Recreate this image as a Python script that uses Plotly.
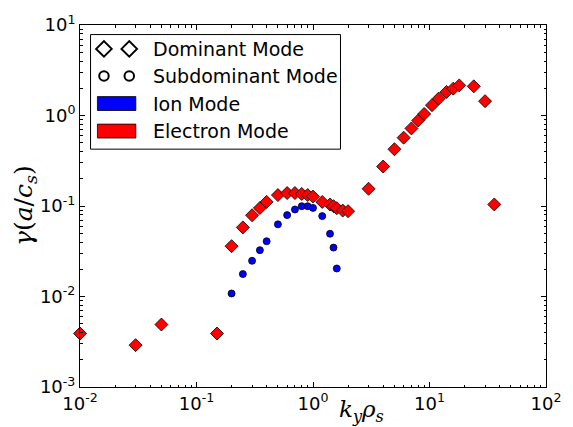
import plotly.graph_objects as go

# Electron mode (dominant) growth rates
ele_k = [0.01, 0.03, 0.05, 0.15, 0.2, 0.25, 0.3, 0.35, 0.4, 0.5, 0.6, 0.7, 0.8, 0.9, 1.0,
         1.2, 1.4, 1.5, 1.6, 1.8, 2.0, 3.0, 4.0, 5.0, 6.0, 7.0, 8.0, 9.0, 10.5, 12.0, 14.0,
         16.0, 18.0, 24.0, 30.0, 36.0]
ele_g = [0.0039, 0.0029, 0.0049, 0.0039, 0.036, 0.058, 0.079, 0.095, 0.111, 0.132, 0.139,
         0.139, 0.136, 0.132, 0.127, 0.111, 0.104, 0.0995, 0.0946, 0.089, 0.0877, 0.155,
         0.273, 0.424, 0.569, 0.72, 0.88, 1.04, 1.30, 1.54, 1.82, 1.98, 2.15, 2.10, 1.44, 0.104]

# Ion mode (subdominant) growth rates
ion_k = [0.2, 0.25, 0.3, 0.35, 0.4, 0.5, 0.6, 0.7, 0.8, 0.9, 1.0, 1.2, 1.4, 1.5, 1.6]
ion_g = [0.0108, 0.0177, 0.0248, 0.0325, 0.0408, 0.0627, 0.0793, 0.0915, 0.0995, 0.0995,
         0.0953, 0.0773, 0.0494, 0.0347, 0.0204]

legend_labels = ["Dominant Mode", "Subdominant Mode", "Ion Mode", "Electron Mode"]
x_tickvals = [0.01, 0.1, 1, 10, 100]
x_ticktext = ["10<sup>-2</sup>", "10<sup>-1</sup>", "10<sup>0</sup>", "10<sup>1</sup>", "10<sup>2</sup>"]
y_tickvals = [0.001, 0.01, 0.1, 1, 10]
y_ticktext = ["10<sup>-3</sup>", "10<sup>-2</sup>", "10<sup>-1</sup>", "10<sup>0</sup>", "10<sup>1</sup>"]


def minor_vals(e0, e1):
    return [m * 10.0 ** e for e in range(e0, e1) for m in range(2, 10)]


FONT = "DejaVu Sans"
fig = go.Figure()

fig.add_trace(go.Scatter(x=ion_k, y=ion_g, mode="markers",
                         marker=dict(symbol="circle", size=7, color="#0000ff",
                                     line=dict(color="black", width=0.8)),
                         showlegend=False, cliponaxis=False))
fig.add_trace(go.Scatter(x=ele_k, y=ele_g, mode="markers",
                         marker=dict(symbol="diamond", size=10, color="#ff0000",
                                     line=dict(color="black", width=0.8)),
                         showlegend=False, cliponaxis=False))

# manual legend (matplotlib style)
lx = [0.0514, 0.1057]
rows = [0.934, 0.859, 0.783, 0.707]
fig.add_trace(go.Scatter(x=lx, y=[rows[0]] * 2, xaxis="x2", yaxis="y2", mode="markers",
                         marker=dict(symbol="diamond-open", size=12, color="black",
                                     line=dict(width=2)), showlegend=False, hoverinfo="skip"))
fig.add_trace(go.Scatter(x=lx, y=[rows[1]] * 2, xaxis="x2", yaxis="y2", mode="markers",
                         marker=dict(symbol="circle-open", size=9.5, color="black",
                                     line=dict(width=2)), showlegend=False, hoverinfo="skip"))

shapes = [dict(type="rect", xref="paper", yref="paper", x0=0.0226, x1=0.559, y0=0.657,
               y1=0.9736, line=dict(color="black", width=1), fillcolor="white", layer="below")]
for r, col in [(rows[2], "#0000ff"), (rows[3], "#ff0000")]:
    shapes.append(dict(type="rect", xref="paper", yref="paper", x0=0.0374, x1=0.1198,
                       y0=r - 0.0192, y1=r + 0.0192, fillcolor=col,
                       line=dict(color="black", width=0.8)))

annotations = []
for r, lab in zip(rows, legend_labels):
    annotations.append(dict(x=0.1516, y=r, xref="paper", yref="paper", text=lab,
                            showarrow=False, xanchor="left", yanchor="middle",
                            font=dict(family=FONT, size=19, color="black")))
annotations.append(dict(x=(366 - 80) / 473, y=-0.018, xref="paper", yref="paper",
                        text="<i>k<sub>y</sub>ρ<sub>s</sub></i>", showarrow=False,
                        xanchor="center", yanchor="top",
                        font=dict(family="DejaVu Serif", size=23, color="black")))
annotations.append(dict(x=-0.118, y=0.5, xref="paper", yref="paper",
                        text="<i>γ</i>(<i>a</i>/<i>c<sub>s</sub></i>)", showarrow=False,
                        textangle=-90, xanchor="center", yanchor="middle",
                        font=dict(family="DejaVu Serif", size=25, color="black")))

axis_common = dict(type="log", showline=True, linecolor="black", linewidth=1, mirror="allticks",
                   ticks="inside", ticklen=5, tickcolor="black", showgrid=False, zeroline=False,
                   tickfont=dict(family=FONT, size=18, color="black"))

fig.update_layout(
    width=573, height=427,
    margin=dict(l=80, r=20, t=23, b=40),
    paper_bgcolor="white", plot_bgcolor="white",
    xaxis=dict(range=[-2, 2], tickmode="array", tickvals=x_tickvals, ticktext=x_ticktext,
               minor=dict(ticks="inside", ticklen=2.5, tickcolor="black", showgrid=False,
                          tickmode="array", tickvals=minor_vals(-2, 2)),
               **axis_common),
    yaxis=dict(range=[-3, 1], tickmode="array", tickvals=y_tickvals, ticktext=y_ticktext,
               minor=dict(ticks="inside", ticklen=2.5, tickcolor="black", showgrid=False,
                          tickmode="array", tickvals=minor_vals(-3, 1)),
               **axis_common),
    xaxis2=dict(range=[0, 1], overlaying="x", anchor="y2", visible=False),
    yaxis2=dict(range=[0, 1], overlaying="y", anchor="x2", visible=False),
    shapes=shapes, annotations=annotations,
    showlegend=False,
)

fig.write_html("out.html")
